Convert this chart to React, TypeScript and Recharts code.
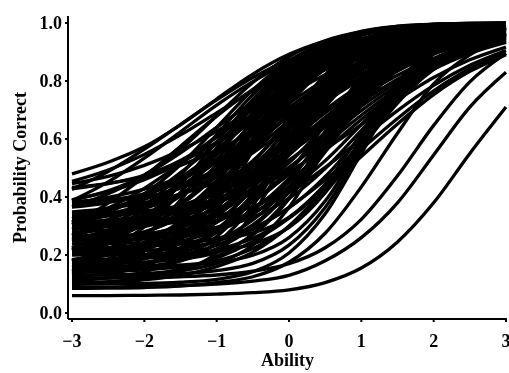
import React from 'react';
import { LineChart, Line, XAxis, YAxis } from 'recharts';

// Ability grid (x values)
const abilityPoints = [-3, -2.5, -2, -1.5, -1, -0.5, 0, 0.5, 1, 1.5, 2, 2.5, 3];
const xTicks = [-3, -2, -1, 0, 1, 2, 3];
const yTicks = [0, 0.2, 0.4, 0.6, 0.8, 1.0];

// Item characteristic curves: probability correct at each ability point
const upperItems = [
  [0.48, 0.52, 0.573, 0.649, 0.738, 0.824, 0.892, 0.938, 0.966, 0.982, 0.99, 0.995, 0.997],
  [0.454, 0.493, 0.547, 0.614, 0.69, 0.766, 0.833, 0.887, 0.926, 0.953, 0.971, 0.982, 0.989],
  [0.427, 0.488, 0.565, 0.65, 0.735, 0.812, 0.873, 0.917, 0.947, 0.967, 0.98, 0.987, 0.992],
  [0.446, 0.471, 0.509, 0.561, 0.627, 0.7, 0.773, 0.839, 0.891, 0.929, 0.954, 0.972, 0.983],
  [0.39, 0.421, 0.476, 0.565, 0.68, 0.795, 0.884, 0.939, 0.97, 0.985, 0.993, 0.997, 0.999],
  [0.428, 0.446, 0.471, 0.509, 0.561, 0.627, 0.7, 0.773, 0.839, 0.891, 0.929, 0.954, 0.972],
  [0.433, 0.447, 0.475, 0.526, 0.606, 0.71, 0.814, 0.894, 0.945, 0.973, 0.987, 0.994, 0.997],
  [0.387, 0.452, 0.534, 0.625, 0.717, 0.798, 0.864, 0.911, 0.943, 0.965, 0.978, 0.987, 0.992],
];

const middleItems = [
  [0.366, 0.411, 0.474, 0.552, 0.64, 0.728, 0.806, 0.869, 0.914, 0.945, 0.966, 0.979, 0.987],
  [0.313, 0.362, 0.43, 0.515, 0.61, 0.705, 0.79, 0.858, 0.907, 0.941, 0.963, 0.977, 0.986],
  [0.225, 0.28, 0.357, 0.453, 0.56, 0.667, 0.763, 0.84, 0.895, 0.933, 0.959, 0.974, 0.984],
  [0.305, 0.379, 0.471, 0.575, 0.679, 0.771, 0.845, 0.899, 0.935, 0.96, 0.975, 0.985, 0.991],
  [0.39, 0.419, 0.46, 0.518, 0.589, 0.67, 0.751, 0.822, 0.88, 0.921, 0.95, 0.969, 0.981],
  [0.325, 0.357, 0.403, 0.466, 0.546, 0.635, 0.724, 0.804, 0.867, 0.913, 0.945, 0.966, 0.979],
  [0.252, 0.286, 0.337, 0.408, 0.496, 0.595, 0.694, 0.782, 0.853, 0.904, 0.938, 0.962, 0.977],
  [0.178, 0.216, 0.272, 0.349, 0.446, 0.555, 0.664, 0.761, 0.838, 0.894, 0.932, 0.958, 0.974],
  [0.381, 0.399, 0.427, 0.468, 0.525, 0.596, 0.675, 0.754, 0.825, 0.882, 0.923, 0.951, 0.969],
  [0.314, 0.335, 0.366, 0.411, 0.474, 0.552, 0.64, 0.728, 0.806, 0.869, 0.914, 0.945, 0.966],
  [0.247, 0.27, 0.304, 0.354, 0.423, 0.509, 0.605, 0.701, 0.787, 0.856, 0.906, 0.94, 0.963],
  [0.18, 0.205, 0.242, 0.297, 0.371, 0.465, 0.57, 0.675, 0.769, 0.843, 0.898, 0.935, 0.96],
  [0.133, 0.159, 0.198, 0.256, 0.335, 0.434, 0.545, 0.656, 0.755, 0.834, 0.892, 0.931, 0.957],
  [0.349, 0.361, 0.381, 0.41, 0.452, 0.51, 0.583, 0.665, 0.747, 0.82, 0.878, 0.92, 0.949],
  [0.262, 0.276, 0.298, 0.33, 0.378, 0.444, 0.527, 0.62, 0.713, 0.796, 0.862, 0.91, 0.942],
  [0.184, 0.199, 0.224, 0.26, 0.313, 0.386, 0.478, 0.58, 0.682, 0.774, 0.847, 0.9, 0.936],
  [0.313, 0.32, 0.333, 0.353, 0.383, 0.427, 0.488, 0.565, 0.65, 0.735, 0.812, 0.873, 0.917],
  [0.214, 0.223, 0.238, 0.261, 0.295, 0.346, 0.415, 0.502, 0.6, 0.698, 0.785, 0.854, 0.905],
  [0.146, 0.155, 0.171, 0.196, 0.234, 0.288, 0.364, 0.459, 0.565, 0.671, 0.766, 0.842, 0.896],
  [0.097, 0.107, 0.123, 0.15, 0.189, 0.247, 0.327, 0.428, 0.54, 0.652, 0.753, 0.833, 0.891],
  [0.314, 0.348, 0.411, 0.511, 0.64, 0.769, 0.869, 0.932, 0.966, 0.983, 0.992, 0.996, 0.999],
  [0.219, 0.258, 0.329, 0.443, 0.59, 0.737, 0.851, 0.922, 0.961, 0.981, 0.991, 0.996, 0.998],
  [0.142, 0.186, 0.264, 0.389, 0.55, 0.711, 0.836, 0.915, 0.958, 0.979, 0.99, 0.996, 0.998],
  [0.365, 0.381, 0.412, 0.468, 0.559, 0.675, 0.791, 0.882, 0.938, 0.969, 0.985, 0.993, 0.997],
  [0.287, 0.304, 0.339, 0.403, 0.504, 0.635, 0.766, 0.867, 0.931, 0.966, 0.983, 0.992, 0.996],
  [0.218, 0.238, 0.276, 0.346, 0.457, 0.6, 0.743, 0.854, 0.924, 0.962, 0.982, 0.991, 0.996],
  [0.15, 0.171, 0.213, 0.288, 0.409, 0.565, 0.721, 0.842, 0.917, 0.959, 0.98, 0.99, 0.996],
  [0.377, 0.384, 0.4, 0.43, 0.485, 0.572, 0.685, 0.798, 0.885, 0.94, 0.97, 0.986, 0.993],
  [0.308, 0.316, 0.333, 0.367, 0.427, 0.525, 0.65, 0.775, 0.873, 0.934, 0.967, 0.984, 0.992],
  [0.238, 0.248, 0.266, 0.303, 0.37, 0.477, 0.615, 0.753, 0.86, 0.927, 0.964, 0.982, 0.992],
  [0.169, 0.179, 0.199, 0.24, 0.313, 0.43, 0.58, 0.73, 0.847, 0.92, 0.961, 0.981, 0.991],
  [0.11, 0.121, 0.142, 0.186, 0.264, 0.389, 0.55, 0.711, 0.836, 0.915, 0.958, 0.979, 0.99],
  [0.333, 0.337, 0.345, 0.361, 0.394, 0.452, 0.545, 0.665, 0.785, 0.878, 0.936, 0.969, 0.985],
  [0.254, 0.258, 0.267, 0.285, 0.321, 0.387, 0.491, 0.625, 0.759, 0.864, 0.929, 0.965, 0.983],
  [0.174, 0.179, 0.189, 0.209, 0.249, 0.321, 0.436, 0.585, 0.734, 0.849, 0.921, 0.961, 0.981],
  [0.114, 0.12, 0.13, 0.152, 0.195, 0.272, 0.396, 0.555, 0.714, 0.838, 0.915, 0.958, 0.98],
  [0.302, 0.304, 0.308, 0.316, 0.333, 0.367, 0.427, 0.525, 0.65, 0.775, 0.873, 0.934, 0.967],
  [0.222, 0.224, 0.229, 0.238, 0.257, 0.294, 0.362, 0.47, 0.61, 0.75, 0.858, 0.926, 0.963],
  [0.142, 0.144, 0.149, 0.16, 0.18, 0.222, 0.297, 0.416, 0.57, 0.724, 0.843, 0.918, 0.96],
  [0.384, 0.391, 0.409, 0.454, 0.547, 0.69, 0.833, 0.926, 0.971, 0.989, 0.996, 0.999, 0.999],
  [0.295, 0.303, 0.323, 0.374, 0.481, 0.645, 0.809, 0.916, 0.967, 0.987, 0.995, 0.999, 0.999],
  [0.206, 0.214, 0.238, 0.295, 0.415, 0.6, 0.785, 0.905, 0.962, 0.986, 0.994, 0.998, 0.999],
  [0.126, 0.136, 0.161, 0.225, 0.357, 0.56, 0.763, 0.895, 0.959, 0.984, 0.994, 0.998, 0.999],
  [0.342, 0.345, 0.352, 0.371, 0.419, 0.518, 0.67, 0.822, 0.921, 0.969, 0.988, 0.995, 0.999],
  [0.262, 0.265, 0.273, 0.295, 0.348, 0.459, 0.63, 0.801, 0.912, 0.965, 0.987, 0.995, 0.999],
  [0.182, 0.186, 0.195, 0.219, 0.278, 0.401, 0.59, 0.779, 0.902, 0.961, 0.985, 0.994, 0.998],
  [0.102, 0.106, 0.116, 0.142, 0.207, 0.342, 0.55, 0.758, 0.893, 0.958, 0.984, 0.994, 0.998],
  [0.301, 0.302, 0.305, 0.313, 0.333, 0.383, 0.488, 0.65, 0.812, 0.917, 0.967, 0.987, 0.995],
  [0.211, 0.212, 0.216, 0.224, 0.247, 0.304, 0.423, 0.605, 0.787, 0.906, 0.963, 0.986, 0.994],
  [0.131, 0.132, 0.136, 0.146, 0.171, 0.234, 0.364, 0.565, 0.766, 0.897, 0.959, 0.984, 0.994],
  [0.24, 0.241, 0.242, 0.245, 0.254, 0.276, 0.33, 0.444, 0.62, 0.796, 0.91, 0.964, 0.986],
  [0.16, 0.161, 0.162, 0.166, 0.175, 0.199, 0.26, 0.386, 0.58, 0.774, 0.9, 0.961, 0.985],
  [0.1, 0.101, 0.102, 0.106, 0.116, 0.142, 0.207, 0.342, 0.55, 0.758, 0.893, 0.958, 0.984],
];

const extraItems = [
  [0.269, 0.321, 0.393, 0.484, 0.585, 0.686, 0.777, 0.849, 0.901, 0.937, 0.961, 0.976, 0.985],
  [0.289, 0.322, 0.37, 0.437, 0.521, 0.615, 0.709, 0.793, 0.86, 0.908, 0.941, 0.964, 0.978],
  [0.215, 0.251, 0.305, 0.379, 0.471, 0.575, 0.679, 0.771, 0.845, 0.899, 0.935, 0.96, 0.975],
  [0.342, 0.362, 0.392, 0.436, 0.496, 0.571, 0.655, 0.739, 0.814, 0.874, 0.918, 0.948, 0.968],
  [0.219, 0.242, 0.278, 0.329, 0.401, 0.49, 0.59, 0.69, 0.779, 0.851, 0.902, 0.938, 0.961],
  [0.157, 0.182, 0.22, 0.276, 0.353, 0.45, 0.558, 0.665, 0.762, 0.839, 0.895, 0.933, 0.957],
  [0.301, 0.314, 0.335, 0.366, 0.411, 0.474, 0.552, 0.64, 0.728, 0.806, 0.869, 0.914, 0.945],
  [0.223, 0.238, 0.261, 0.295, 0.346, 0.415, 0.502, 0.6, 0.698, 0.785, 0.854, 0.905, 0.939],
  [0.146, 0.161, 0.187, 0.225, 0.28, 0.357, 0.453, 0.56, 0.667, 0.763, 0.84, 0.895, 0.933],
  [0.266, 0.303, 0.37, 0.477, 0.615, 0.753, 0.86, 0.927, 0.964, 0.982, 0.992, 0.996, 0.998],
  [0.18, 0.222, 0.297, 0.416, 0.57, 0.724, 0.843, 0.918, 0.96, 0.98, 0.991, 0.996, 0.998],
  [0.326, 0.342, 0.376, 0.436, 0.531, 0.655, 0.779, 0.874, 0.934, 0.968, 0.984, 0.992, 0.997],
  [0.257, 0.276, 0.312, 0.378, 0.484, 0.62, 0.756, 0.862, 0.928, 0.964, 0.983, 0.992, 0.996],
  [0.184, 0.204, 0.244, 0.317, 0.433, 0.583, 0.732, 0.848, 0.921, 0.961, 0.981, 0.991, 0.996],
  [0.278, 0.287, 0.304, 0.339, 0.403, 0.504, 0.635, 0.766, 0.867, 0.931, 0.966, 0.983, 0.992],
  [0.204, 0.214, 0.233, 0.271, 0.342, 0.453, 0.598, 0.742, 0.853, 0.924, 0.962, 0.981, 0.991],
  [0.14, 0.15, 0.171, 0.213, 0.288, 0.409, 0.565, 0.721, 0.842, 0.917, 0.959, 0.98, 0.99],
  [0.294, 0.298, 0.306, 0.323, 0.357, 0.419, 0.518, 0.645, 0.772, 0.871, 0.933, 0.967, 0.984],
  [0.214, 0.219, 0.228, 0.247, 0.285, 0.354, 0.464, 0.605, 0.746, 0.856, 0.925, 0.963, 0.982],
  [0.144, 0.149, 0.16, 0.18, 0.222, 0.297, 0.416, 0.57, 0.724, 0.843, 0.918, 0.96, 0.98],
  [0.335, 0.342, 0.361, 0.41, 0.51, 0.665, 0.82, 0.92, 0.969, 0.988, 0.995, 0.999, 0.999],
  [0.25, 0.259, 0.28, 0.335, 0.448, 0.623, 0.797, 0.91, 0.965, 0.986, 0.995, 0.998, 0.999],
  [0.166, 0.175, 0.199, 0.26, 0.386, 0.58, 0.774, 0.9, 0.961, 0.985, 0.994, 0.998, 0.999],
  [0.302, 0.305, 0.313, 0.333, 0.383, 0.488, 0.65, 0.812, 0.917, 0.967, 0.987, 0.995, 0.999],
  [0.222, 0.225, 0.234, 0.257, 0.313, 0.43, 0.61, 0.79, 0.907, 0.963, 0.986, 0.995, 0.998],
  [0.142, 0.146, 0.155, 0.18, 0.242, 0.371, 0.57, 0.769, 0.898, 0.96, 0.985, 0.994, 0.998],
  [0.262, 0.264, 0.268, 0.277, 0.295, 0.33, 0.395, 0.498, 0.63, 0.762, 0.865, 0.93, 0.965],
  [0.182, 0.184, 0.189, 0.199, 0.219, 0.258, 0.329, 0.443, 0.59, 0.737, 0.851, 0.922, 0.961],
  [0.251, 0.252, 0.255, 0.264, 0.285, 0.339, 0.452, 0.625, 0.798, 0.911, 0.965, 0.987, 0.995],
  [0.171, 0.172, 0.176, 0.185, 0.209, 0.269, 0.393, 0.585, 0.777, 0.901, 0.961, 0.985, 0.994],
  [0.2, 0.201, 0.202, 0.206, 0.214, 0.238, 0.295, 0.415, 0.6, 0.785, 0.905, 0.962, 0.986],
  [0.13, 0.131, 0.132, 0.136, 0.146, 0.171, 0.234, 0.364, 0.565, 0.766, 0.896, 0.959, 0.984],
];

const lowerItems = [
  [0.06, 0.06, 0.061, 0.062, 0.065, 0.07, 0.08, 0.105, 0.155, 0.245, 0.38, 0.55, 0.71],
  [0.09, 0.09, 0.092, 0.095, 0.1, 0.11, 0.13, 0.18, 0.26, 0.38, 0.545, 0.71, 0.83],
  [0.12, 0.121, 0.122, 0.125, 0.131, 0.144, 0.17, 0.225, 0.323, 0.473, 0.647, 0.797, 0.895],
  [0.085, 0.086, 0.088, 0.093, 0.105, 0.125, 0.175, 0.275, 0.435, 0.62, 0.79, 0.89, 0.95],
  [0.104, 0.107, 0.115, 0.13, 0.16, 0.21, 0.3, 0.43, 0.58, 0.73, 0.84, 0.914, 0.955],
];

const allItems = [...upperItems, ...middleItems, ...extraItems, ...lowerItems];

const data = abilityPoints.map((a, i) => {
  const row: Record<string, number> = { ability: a };
  allItems.forEach((curve, j) => {
    row['item' + j] = curve[i];
  });
  return row;
});

const FONT = 'Liberation Serif, Times New Roman, serif';
const tickStyle = { fill: '#000', fontSize: 18, fontWeight: 'bold' as const, fontFamily: FONT };

const fmtX = (v: number) => (v < 0 ? '\u2212' + Math.abs(v) : String(v));
const fmtY = (v: number) => v.toFixed(1);

export default function App() {
  return (
    <div style={{ position: 'fixed', left: 8, top: 8, width: 501, height: 365, overflow: 'hidden' }}>
      <LineChart
        width={512}
        height={365}
        data={data}
        margin={{ top: 8, right: 13, bottom: 0, left: 0 }}
      >
        <XAxis
          dataKey="ability"
          type="number"
          domain={[-3, 3]}
          ticks={xTicks}
          tickFormatter={fmtX}
          padding={{ left: 4, right: 1 }}
          height={54}
          tick={tickStyle}
          tickSize={3}
          tickMargin={12}
          interval={0}
          axisLine={{ stroke: '#000', strokeWidth: 2 }}
          tickLine={{ stroke: '#000', strokeWidth: 2 }}
          label={{
            value: 'Ability',
            position: 'insideBottom',
            offset: 7,
            style: { fill: '#000', fontSize: 18, fontWeight: 'bold', fontFamily: FONT },
          }}
        />
        <YAxis
          type="number"
          domain={[0, 1]}
          ticks={yTicks}
          tickFormatter={fmtY}
          padding={{ top: 7, bottom: 6 }}
          width={60}
          tick={tickStyle}
          tickSize={3}
          tickMargin={3}
          interval={0}
          axisLine={{ stroke: '#000', strokeWidth: 2 }}
          tickLine={{ stroke: '#000', strokeWidth: 2 }}
          label={{
            value: 'Probability Correct',
            angle: -90,
            position: 'insideLeft',
            offset: 12,
            style: { textAnchor: 'middle', fill: '#000', fontSize: 18, fontWeight: 'bold', fontFamily: FONT },
          }}
        />
        {allItems.map((_, j) => (
          <Line
            key={j}
            dataKey={'item' + j}
            type="monotone"
            stroke="#000"
            strokeWidth={3.3}
            dot={false}
            activeDot={false}
            isAnimationActive={false}
          />
        ))}
      </LineChart>
    </div>
  );
}
